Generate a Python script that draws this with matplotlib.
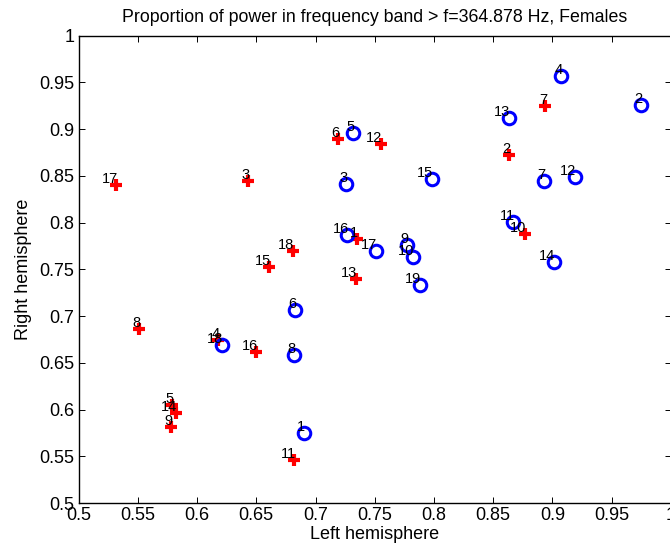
import matplotlib.pyplot as plt
import numpy as np

plt.rcParams['font.family'] = ['Liberation Sans', 'DejaVu Sans']

# right-hemisphere / left-hemisphere proportions, blue circles (19 subjects)
circ_ids = [str(i) for i in range(1, 20)]
circ_x = [0.690, 0.975, 0.726, 0.907, 0.732, 0.683, 0.893, 0.682, 0.777, 0.782,
          0.867, 0.919, 0.863, 0.901, 0.798, 0.727, 0.751, 0.621, 0.788]
circ_y = [0.575, 0.926, 0.841, 0.957, 0.896, 0.706, 0.845, 0.658, 0.776, 0.763,
          0.801, 0.849, 0.912, 0.758, 0.847, 0.787, 0.770, 0.669, 0.733]

# red crosses (18 subjects)
cross_ids = [str(i) for i in range(1, 19)]
cross_x = [0.735, 0.863, 0.643, 0.618, 0.579, 0.719, 0.894, 0.551, 0.578, 0.877,
           0.682, 0.755, 0.734, 0.582, 0.661, 0.650, 0.532, 0.681]
cross_y = [0.782, 0.872, 0.844, 0.674, 0.605, 0.890, 0.925, 0.686, 0.581, 0.788,
           0.546, 0.884, 0.740, 0.596, 0.752, 0.662, 0.840, 0.770]

tick_vals = np.arange(0.5, 1.001, 0.05)
tick_labels = ['0.5', '0.55', '0.6', '0.65', '0.7', '0.75', '0.8', '0.85', '0.9', '0.95', '1']

fig = plt.figure(figsize=(6.70, 5.51), dpi=100)
ax = fig.add_axes([78.5 / 670, 48 / 551, 592.5 / 670, 467.3 / 551])

ax.plot(cross_x, cross_y, linestyle='none', marker='+', color='red',
        markersize=8, markeredgewidth=3)
ax.plot(circ_x, circ_y, linestyle='none', marker='o', markerfacecolor='none',
        markeredgecolor='blue', markersize=9, markeredgewidth=2.2)

# point numbers, sitting just above-left of each marker
for lab, x, y in zip(cross_ids, cross_x, cross_y):
    ax.annotate(lab, (x, y), xytext=(1.5, 2), textcoords='offset pixels',
                ha='right', va='baseline', fontsize=10.5)
for lab, x, y in zip(circ_ids, circ_x, circ_y):
    ax.annotate(lab, (x, y), xytext=(1.5, 2), textcoords='offset pixels',
                ha='right', va='baseline', fontsize=10.5)

ax.set_xlim(0.5, 1.0)
ax.set_ylim(0.5, 1.0)
ax.set_xticks(tick_vals)
ax.set_yticks(tick_vals)
ax.set_xticklabels(tick_labels)
ax.set_yticklabels(tick_labels)
ax.tick_params(direction='in', length=4, width=0.7, labelsize=13,
               top=True, right=True, pad=3)
for s in ax.spines.values():
    s.set_linewidth(1.0)

ax.set_title('Proportion of power in frequency band > f=364.878 Hz, Females',
             fontsize=12.8, pad=10)
ax.set_xlabel('Left hemisphere', fontsize=13, labelpad=1)
ax.set_ylabel('Right hemisphere', fontsize=13, labelpad=5)

fig.savefig('out.png', dpi=100)
